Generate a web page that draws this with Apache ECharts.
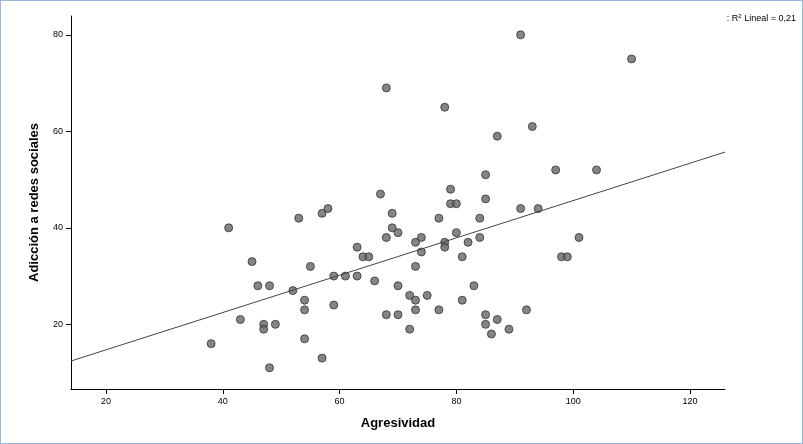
<!DOCTYPE html>
<html><head><meta charset="utf-8">
<script src="https://cdn.jsdelivr.net/npm/echarts@6/dist/echarts.min.js"></script>
<style>html,body{margin:0;padding:0;background:#fff}#c{width:803px;height:444px;box-sizing:border-box;border:1px solid #9ab8dc}</style>
</head><body><div id="c"></div>
<script>
const agresividad=[38,41,43,45,46,47,47,48,48,49,52,53,54,54,54,55,57,58,57,59,59,61,63,63,64,65,66,67,68,68,68,69,69,70,70,70,72,72,73,73,73,73,74,74,75,77,77,78,78,78,79,79,80,80,81,81,82,83,84,84,85,85,85,85,86,87,87,89,91,91,92,93,94,97,98,99,101,104,110];
const adiccion=[16,40,21,33,28,20,19,28,11,20,27,42,25,23,17,32,43,44,13,30,24,30,36,30,34,34,29,47,69,38,22,40,43,39,28,22,19,26,32,37,25,23,38,35,26,42,23,65,37,36,48,45,45,39,34,25,37,28,42,38,51,46,22,20,18,59,21,19,80,44,23,61,44,52,34,34,38,52,75];
const lineX=[14,126];
const lineY=[12.4,55.7];
const xTicks=[20,40,60,80,100,120];
const yTicks=[20,40,60,80];
const pts=agresividad.map((x,i)=>[x,adiccion[i]]);
const ch=echarts.init(document.getElementById('c'));
ch.setOption({
animation:false,
grid:{left:70,right:77,top:15,bottom:54},
graphic:[{type:'text',right:6,top:12,style:{text:': R{s|2} Lineal = 0,21',rich:{s:{fontSize:6,verticalAlign:'top',padding:[0,0,6,0]}},fontSize:9,fill:'#000',fontFamily:'Arial'}}],
xAxis:{type:'value',min:14,max:126,interval:20,
 axisLine:{lineStyle:{color:'#000'}},axisTick:{show:true,lineStyle:{color:'#000'}},splitLine:{show:false},
 axisLabel:{fontSize:9,color:'#000',customValues:xTicks},axisTick:{customValues:xTicks},
 name:'Agresividad',nameLocation:'middle',nameGap:28,nameTextStyle:{fontSize:13,fontWeight:'bold',color:'#000',fontFamily:'Arial'}},
yAxis:{type:'value',min:6.6,max:83.9,
 axisLine:{show:true,lineStyle:{color:'#000'}},axisTick:{show:true,customValues:yTicks,lineStyle:{color:'#000'}},splitLine:{show:false},
 axisLabel:{fontSize:9,color:'#000',customValues:yTicks},
 name:'Adicción a redes sociales',nameLocation:'middle',nameGap:30,nameTextStyle:{fontSize:13,fontWeight:'bold',color:'#000',fontFamily:'Arial'}},
series:[
{type:'scatter',data:pts,symbolSize:8,itemStyle:{color:'#666',borderColor:'#333',borderWidth:1}},
{type:'line',data:lineX.map((x,i)=>[x,lineY[i]]),symbol:'none',lineStyle:{color:'#444',width:1},silent:true}
]});
</script></body></html>
